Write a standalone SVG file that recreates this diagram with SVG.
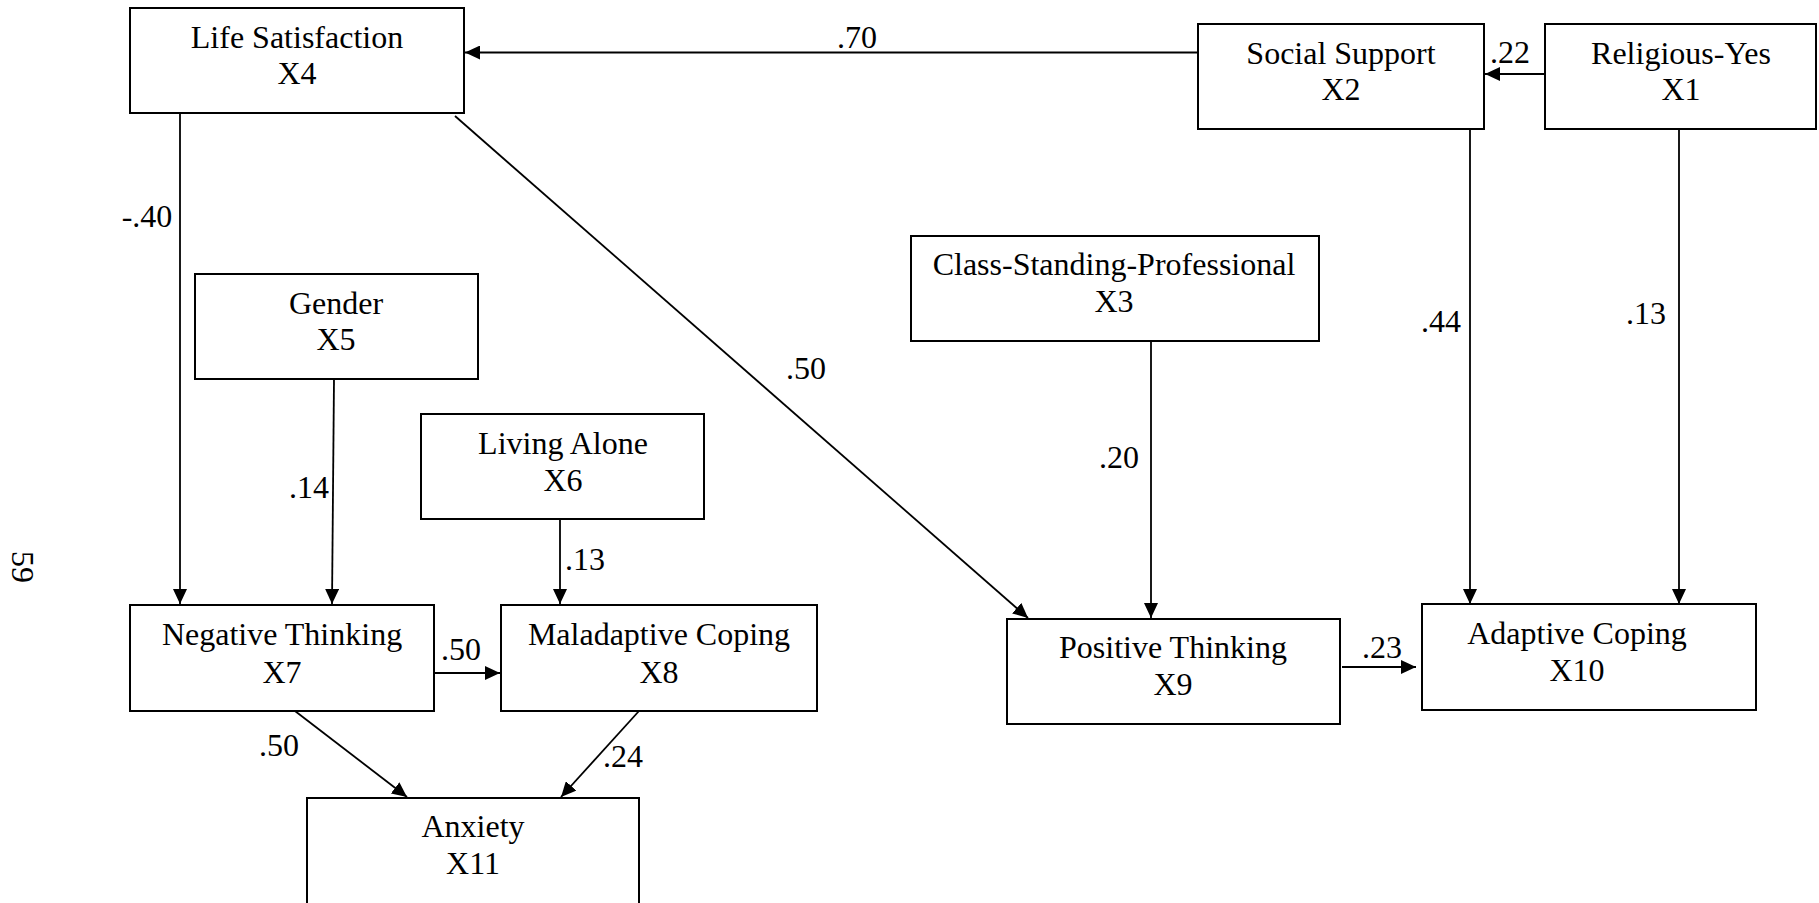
<svg xmlns="http://www.w3.org/2000/svg" width="1819" height="903" viewBox="0 0 1819 903">
<style>
.box{fill:#fff;stroke:#000;stroke-width:2}
text{font-family:"Liberation Serif","Times New Roman",serif;font-size:32px;fill:#000;text-anchor:middle}
.ln{stroke:#000;stroke-width:1.8;fill:none;marker-end:url(#ah)}
</style>
<defs>
<marker id="ah" markerUnits="userSpaceOnUse" markerWidth="16" markerHeight="14" refX="15" refY="7" orient="auto">
<path d="M0,0 L15,7 L0,14 z" fill="#000"/>
</marker>
</defs>
<rect width="1819" height="903" fill="#fff"/>
<g id="connectors">
<line class="ln" x1="1198" y1="52.5" x2="465" y2="52.5"/>
<line class="ln" x1="1545" y1="74" x2="1485" y2="74"/>
<line class="ln" x1="1470" y1="129" x2="1470" y2="604"/>
<line class="ln" x1="1679" y1="115" x2="1679" y2="604"/>
<line class="ln" x1="1151" y1="331" x2="1151" y2="618"/>
<line class="ln" x1="1342" y1="667" x2="1416" y2="667"/>
<line class="ln" x1="455" y1="116" x2="1028" y2="618"/>
<line class="ln" x1="180" y1="113" x2="180" y2="604"/>
<line class="ln" x1="334" y1="379" x2="332" y2="604"/>
<line class="ln" x1="560" y1="519" x2="560" y2="604"/>
<line class="ln" x1="434" y1="673" x2="500" y2="673"/>
<line class="ln" x1="295" y1="711" x2="407" y2="797"/>
<line class="ln" x1="639" y1="711" x2="561" y2="797"/>
<text x="857" y="48">.70</text>
<text x="1510" y="63">.22</text>
<text x="1441" y="332">.44</text>
<text x="1646" y="324">.13</text>
<text x="1119" y="468">.20</text>
<text x="1382" y="658">.23</text>
<text x="806" y="379">.50</text>
<text x="147" y="227">-.40</text>
<text x="309" y="498">.14</text>
<text x="585" y="570">.13</text>
<text x="461" y="660">.50</text>
<text x="279" y="756">.50</text>
<text x="623" y="767">.24</text>
</g>
<g id="x4"><rect class="box" x="130" y="8" width="334" height="105"/><text x="297" y="48">Life Satisfaction</text><text x="297" y="84">X4</text></g>
<g id="x2"><rect class="box" x="1198" y="24" width="286" height="105"/><text x="1341" y="64">Social Support</text><text x="1341" y="100">X2</text></g>
<g id="x1"><rect class="box" x="1545" y="24" width="271" height="105"/><text x="1681" y="64">Religious-Yes</text><text x="1681" y="100">X1</text></g>
<g id="x3"><rect class="box" x="911" y="236" width="408" height="105"/><text x="1114" y="275">Class-Standing-Professional</text><text x="1114" y="312">X3</text></g>
<g id="x5"><rect class="box" x="195" y="274" width="283" height="105"/><text x="336" y="314">Gender</text><text x="336" y="350">X5</text></g>
<g id="x6"><rect class="box" x="421" y="414" width="283" height="105"/><text x="563" y="454">Living Alone</text><text x="563" y="491">X6</text></g>
<g id="x7"><rect class="box" x="130" y="605" width="304" height="106"/><text x="282" y="645">Negative Thinking</text><text x="282" y="683">X7</text></g>
<g id="x8"><rect class="box" x="501" y="605" width="316" height="106"/><text x="659" y="645">Maladaptive Coping</text><text x="659" y="683">X8</text></g>
<g id="x9"><rect class="box" x="1007" y="619" width="333" height="105"/><text x="1173" y="658">Positive Thinking</text><text x="1173" y="695">X9</text></g>
<g id="x10"><rect class="box" x="1422" y="604" width="334" height="106"/><text x="1577" y="644">Adaptive Coping</text><text x="1577" y="681">X10</text></g>
<g id="x11"><rect class="box" x="307" y="798" width="332" height="130"/><text x="473" y="837">Anxiety</text><text x="473" y="874">X11</text></g>
<text x="0" y="0" transform="translate(12,551) rotate(90)" style="text-anchor:start">59</text>
</svg>
